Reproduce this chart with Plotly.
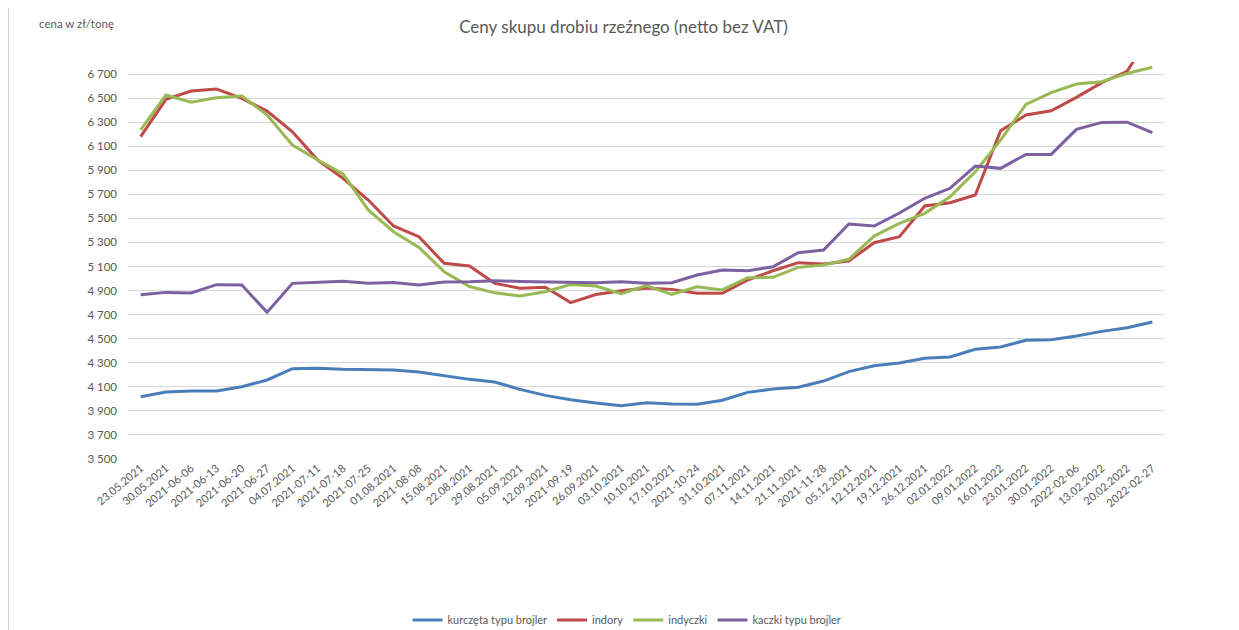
import plotly.graph_objects as go

dates = ["23.05.2021", "30.05.2021", "2021-06-06", "2021-06-13", "2021-06-20", "2021-06-27",
         "04.07.2021", "2021-07-11", "2021-07-18", "2021-07-25", "01.08.2021", "2021-08-08",
         "15.08.2021", "22.08.2021", "29.08.2021", "05.09.2021", "12.09.2021", "2021-09-19",
         "26.09.2021", "03.10.2021", "10.10.2021", "17.10.2021", "2021-10-24", "31.10.2021",
         "07.11.2021", "14.11.2021", "21.11.2021", "2021-11-28", "05.12.2021", "12.12.2021",
         "19.12.2021", "26.12.2021", "02.01.2022", "09.01.2022", "16.01.2022", "23.01.2022",
         "30.01.2022", "2022-02-06", "13.02.2022", "20.02.2022", "2022-02-27"]

kurczeta = [4018, 4057, 4065, 4065, 4101, 4157, 4251, 4254, 4246, 4246, 4240, 4223,
            4190, 4162, 4140, 4079, 4029, 3993, 3965, 3943, 3968, 3957, 3955, 3988,
            4054, 4082, 4096, 4148, 4226, 4275, 4298, 4337, 4348, 4412, 4431, 4487,
            4492, 4522, 4561, 4591, 4639]

indory = [6179, 6490, 6559, 6575, 6498, 6392, 6220, 5985, 5833, 5653, 5437, 5348,
          5127, 5104, 4960, 4919, 4927, 4800, 4867, 4899, 4922, 4910, 4877, 4877,
          4988, 5065, 5132, 5121, 5146, 5298, 5348, 5603, 5630, 5694, 6229, 6359,
          6395, 6506, 6628, 6722, 7050]

indyczki = [6235, 6525, 6465, 6503, 6517, 6359, 6110, 5985, 5869, 5570, 5389, 5259,
            5057, 4934, 4881, 4855, 4890, 4950, 4938, 4874, 4942, 4869, 4932, 4905,
            5007, 5010, 5093, 5112, 5160, 5353, 5459, 5542, 5680, 5888, 6151, 6448,
            6545, 6617, 6636, 6705, 6756]

kaczki = [4866, 4885, 4880, 4949, 4946, 4719, 4960, 4968, 4977, 4960, 4968, 4946,
          4971, 4974, 4982, 4976, 4973, 4967, 4966, 4973, 4961, 4966, 5029, 5071,
          5065, 5098, 5215, 5237, 5453, 5437, 5545, 5667, 5750, 5935, 5916, 6032,
          6032, 6240, 6298, 6300, 6212]

series_names = ["kurczęta typu brojler", "indory", "indyczki", "kaczki typu brojler"]
series_values = [kurczeta, indory, indyczki, kaczki]
colors = ["#4A7EBB", "#BE4B48", "#98B954", "#7D60A0"]

y_ticks = list(range(3500, 6701, 200))
y_ticktext = [f"{v // 1000} {v % 1000:03d}" for v in y_ticks]

fig = go.Figure()
for name, vals, col in zip(series_names, series_values, colors):
    fig.add_trace(go.Scatter(
        x=dates, y=vals, name=name, mode="lines",
        line=dict(color=col, width=3),
        cliponaxis=True,
    ))

font_family = "Lato, 'Open Sans', sans-serif"

# page body has an 8px margin, so the figure is 8px smaller and shifted
W, H = 1231, 622
L, T, PW, PH = 120, 54, 1037, 397

fig.update_layout(
    width=W, height=H,
    paper_bgcolor="white", plot_bgcolor="white",
    margin=dict(l=L, r=W - L - PW, t=T, b=H - T - PH, autoexpand=False),
    font=dict(family=font_family, color="#595959", size=11),
    title=dict(text="Ceny skupu drobiu rzeźnego (netto bez VAT)",
               x=0.5, xref="container", xanchor="center",
               y=1 - 19 / H, yref="container", yanchor="middle",
               automargin=False,
               font=dict(size=17, color="#595959", family=font_family)),
    showlegend=True,
    legend=dict(orientation="h", x=(627 - 8) / W, xanchor="center", xref="container",
                y=10 / H, yanchor="middle", yref="container",
                font=dict(size=11, color="#595959"),
                itemwidth=30, tracegroupgap=0),
    xaxis=dict(
        type="category", range=[-0.5, len(dates) - 0.5],
        tickangle=-40, tickfont=dict(size=11, color="#595959"),
        showgrid=False, showline=False, zeroline=False, ticks="",
        automargin=False, fixedrange=True,
    ),
    yaxis=dict(
        range=[3500, 6800], tickvals=y_ticks, ticktext=y_ticktext,
        showgrid=True, gridcolor="#D9D9D9", gridwidth=1,
        zeroline=False, showline=False, ticks="",
        tickfont=dict(size=11.5, color="#595959"),
        ticklabelstandoff=10, automargin=False,
    ),
    annotations=[dict(
        text="cena w zł/tonę", xref="paper", yref="paper",
        x=(37 - 128) / PW, y=(459 - 24) / PH,
        xanchor="left", yanchor="middle", showarrow=False,
        font=dict(size=11.5, color="#595959"),
    )],
    shapes=[dict(
        type="line", xref="paper", yref="paper",
        x0=(0.5 - L) / PW, x1=(0.5 - L) / PW,
        y0=-(H - T - PH) / PH, y1=(PH + T) / PH,
        line=dict(color="#D9D9D9", width=1),
    )],
)

fig.write_html("out.html")
